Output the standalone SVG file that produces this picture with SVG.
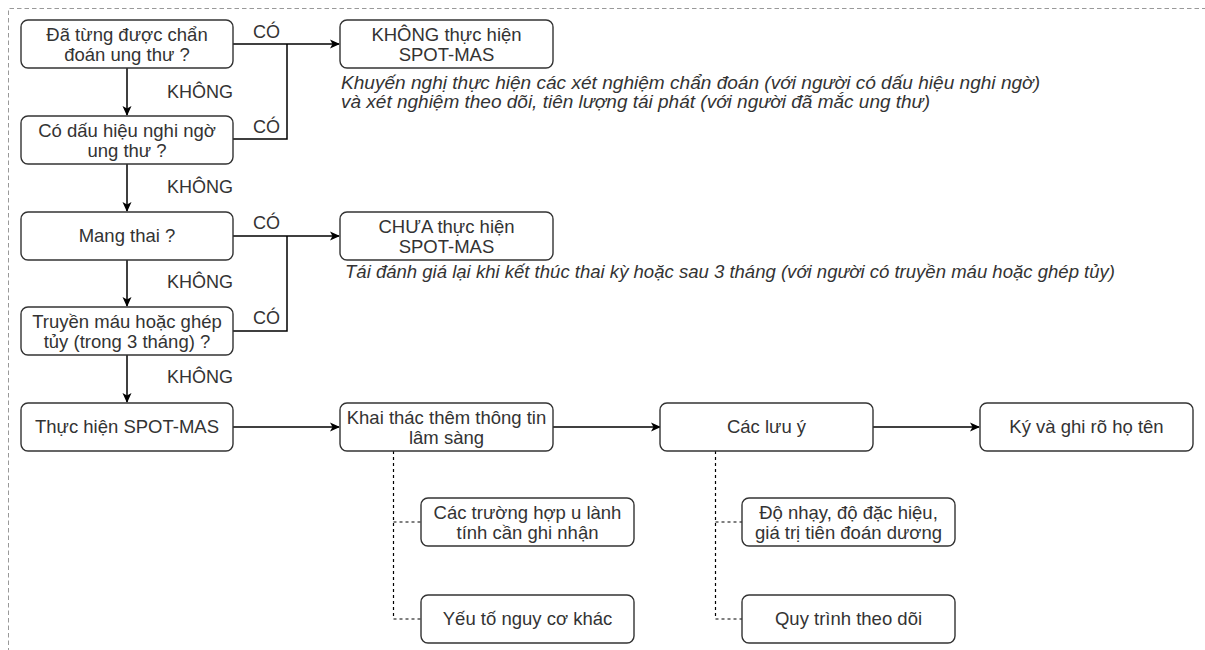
<svg xmlns="http://www.w3.org/2000/svg" width="1205" height="650" viewBox="0 0 1205 650">
<defs>
<marker id="arr" markerWidth="10" markerHeight="10" refX="9" refY="5" orient="auto" markerUnits="userSpaceOnUse">
<path d="M0,0.5 L10,5 L0,9.5 L2.5,5 Z" fill="#000"/>
</marker>
<style>
.box{fill:#fff;stroke:#333;stroke-width:1.4}
.t{font-family:"Liberation Sans",Arial,sans-serif;font-size:18.5px;fill:#333;text-anchor:middle}
.lbl{font-family:"Liberation Sans",Arial,sans-serif;font-size:18px;fill:#333}
.note{font-family:"Liberation Sans",Arial,sans-serif;font-size:18px;font-style:italic;fill:#333}
.edge{fill:none;stroke:#000;stroke-width:1.5}
.dash{fill:none;stroke:#000;stroke-width:1.2;stroke-dasharray:3 3}
</style>
</defs>
<rect width="1205" height="650" fill="#fff"/>
<path d="M8.5,660 L8.5,8.5 L1215,8.5" fill="none" stroke="#999" stroke-width="1" stroke-dasharray="4.5 3"/>

<g id="connectors">
<path class="edge" d="M127,68 L127,115" marker-end="url(#arr)"/>
<path class="edge" d="M127,164 L127,211" marker-end="url(#arr)"/>
<path class="edge" d="M127,260 L127,306" marker-end="url(#arr)"/>
<path class="edge" d="M127,355 L127,402" marker-end="url(#arr)"/>
<path class="edge" d="M233,44 L339,44" marker-end="url(#arr)"/>
<path class="edge" d="M233,139 L287,139 L287,44"/>
<path class="edge" d="M233,236 L339,236" marker-end="url(#arr)"/>
<path class="edge" d="M233,331 L287,331 L287,236"/>
<path class="edge" d="M233,427 L339,427" marker-end="url(#arr)"/>
<path class="edge" d="M553,427 L660,427" marker-end="url(#arr)"/>
<path class="edge" d="M873,427 L979,427" marker-end="url(#arr)"/>
<path class="dash" d="M393.5,451 L393.5,619 L421,619 M393.5,522 L421,522"/>
<path class="dash" d="M715.5,451 L715.5,619 L742,619 M715.5,522 L742,522"/>
<text class="lbl" x="253" y="38">CÓ</text>
<text class="lbl" x="167" y="98">KHÔNG</text>
<text class="lbl" x="253" y="133">CÓ</text>
<text class="lbl" x="167" y="193">KHÔNG</text>
<text class="lbl" x="253" y="229">CÓ</text>
<text class="lbl" x="167" y="288">KHÔNG</text>
<text class="lbl" x="253" y="324">CÓ</text>
<text class="lbl" x="167" y="383">KHÔNG</text>
</g>

<g id="n1"><rect class="box" x="21" y="20" width="212" height="48" rx="7"/>
<text class="t" x="127" y="41">Đã từng được chẩn</text><text class="t" x="127" y="61">đoán ung thư ?</text></g>
<g id="n2"><rect class="box" x="21" y="116" width="212" height="48" rx="7"/>
<text class="t" x="127" y="137">Có dấu hiệu nghi ngờ</text><text class="t" x="127" y="157">ung thư ?</text></g>
<g id="n3"><rect class="box" x="21" y="212" width="212" height="48" rx="7"/>
<text class="t" x="127" y="242">Mang thai ?</text></g>
<g id="n4"><rect class="box" x="21" y="307" width="212" height="48" rx="7"/>
<text class="t" x="127" y="328">Truyền máu hoặc ghép</text><text class="t" x="127" y="348">tủy (trong 3 tháng) ?</text></g>
<g id="n5"><rect class="box" x="21" y="403" width="212" height="48" rx="7"/>
<text class="t" x="127" y="433">Thực hiện SPOT-MAS</text></g>

<g id="n6"><rect class="box" x="340" y="20" width="213" height="48" rx="7"/>
<text class="t" x="446.5" y="41">KHÔNG thực hiện</text><text class="t" x="446.5" y="61">SPOT-MAS</text></g>
<g id="note1"><text class="note" x="341" y="89" textLength="699" lengthAdjust="spacingAndGlyphs">Khuyến nghị thực hiện các xét nghiệm chẩn đoán (với người có dấu hiệu nghi ngờ)</text>
<text class="note" x="341" y="108" textLength="589" lengthAdjust="spacingAndGlyphs">và xét nghiệm theo dõi, tiên lượng tái phát (với người đã mắc ung thư)</text></g>
<g id="n7"><rect class="box" x="340" y="212" width="213" height="48" rx="7"/>
<text class="t" x="446.5" y="233">CHƯA thực hiện</text><text class="t" x="446.5" y="253">SPOT-MAS</text></g>
<g id="note2"><text class="note" x="345" y="278" textLength="770" lengthAdjust="spacingAndGlyphs">Tái đánh giá lại khi kết thúc thai kỳ hoặc sau 3 tháng (với người có truyền máu hoặc ghép tủy)</text></g>

<g id="n8"><rect class="box" x="340" y="403" width="213" height="48" rx="7"/>
<text class="t" x="446.5" y="424">Khai thác thêm thông tin</text><text class="t" x="446.5" y="444">lâm sàng</text></g>
<g id="n9"><rect class="box" x="660" y="403" width="213" height="48" rx="7"/>
<text class="t" x="766.5" y="433">Các lưu ý</text></g>
<g id="n10"><rect class="box" x="980" y="403" width="213" height="48" rx="7"/>
<text class="t" x="1086.5" y="433">Ký và ghi rõ họ tên</text></g>

<g id="n11"><rect class="box" x="421" y="498" width="213" height="48" rx="7"/>
<text class="t" x="527.5" y="519">Các trường hợp u lành</text><text class="t" x="527.5" y="539">tính cần ghi nhận</text></g>
<g id="n12"><rect class="box" x="421" y="595" width="213" height="48" rx="7"/>
<text class="t" x="527.5" y="625">Yếu tố nguy cơ khác</text></g>
<g id="n13"><rect class="box" x="742" y="498" width="213" height="48" rx="7"/>
<text class="t" x="848.5" y="519">Độ nhạy, độ đặc hiệu,</text><text class="t" x="848.5" y="539">giá trị tiên đoán dương</text></g>
<g id="n14"><rect class="box" x="742" y="595" width="213" height="48" rx="7"/>
<text class="t" x="848.5" y="625">Quy trình theo dõi</text></g>
</svg>
